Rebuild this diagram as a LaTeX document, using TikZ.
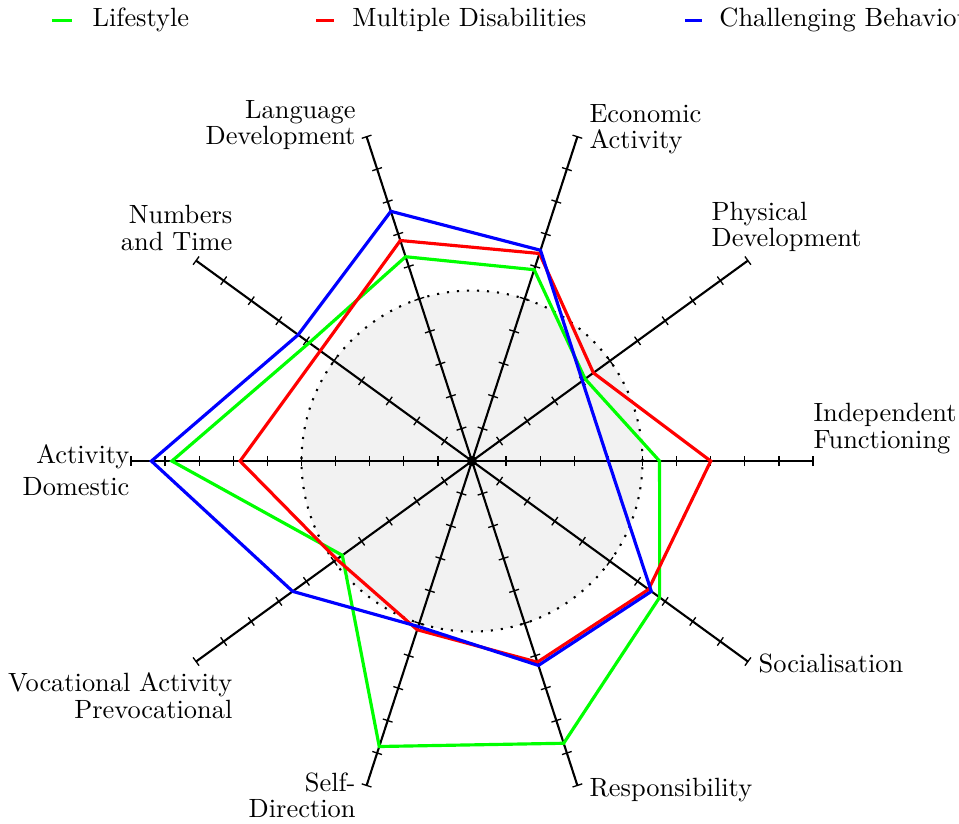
\documentclass[tikz,border=0pt]{standalone}
\usetikzlibrary{calc}
\definecolor{lifegreen}{RGB}{0,255,0}
\tikzset{
  axisline/.style={line width=0.8pt},
  tickmark/.style={line width=0.5pt},
  axislabel/.style={inner sep=0pt, font=\fontsize{10}{10}\selectfont},
  series/.style={line width=1.2pt},
}
\begin{document}
\begin{tikzpicture}[x=12.92pt,y=12.92pt]
    \useasboundingbox (-13.84,-10.62) rectangle (14.28,13.52);
    % shaded reference disc
    \fill[black!5] (0,0) circle (5);
    \draw[dash pattern=on 0.8pt off 3pt, line width=0.8pt] (0,0) circle (5);
    % spokes with ticks
    \coordinate (O) at (0,0);
    \foreach \a [count=\i] in {0,36,...,324} {
        \coordinate (end\i) at (\a:10);
        \draw[axisline] (O) -- (end\i);
        \foreach \k in {1,...,10}
            \draw[tickmark,rotate=\a] (\k,-0.15) -- (\k,0.15);
    }
    \fill (O) circle (0.15);
    % spoke labels
    \begin{scope}[every node/.style={axislabel}]
        \node[anchor=north west, align=left] (lblind) at (10.00,1.70) {Independent\\Functioning};
        \node[anchor=north west, align=left] (lblphys) at (7.01,7.62) {Physical\\Development};
        \node[anchor=north west, align=left] (lblecon) at (3.43,10.47) {Economic\\Activity};
        \node[anchor=north east, align=right] (lbllang) at (-3.40,10.59) {Language\\Development};
        \node[anchor=north east, align=right] (lblnum) at (-7.01,7.51) {Numbers\\and Time};
        \node[anchor=north east, align=right] (lbldom) at (-10.03,0.50) {Activity\\[2pt]Domestic};
        \node[anchor=north east, align=right] (lblvoc) at (-7.01,-6.19) {Vocational Activity\\Prevocational};
        \node[anchor=north east, align=right] (lblself) at (-3.40,-9.12) {Self-\\Direction};
        \node[anchor=north west] (lblresp) at (3.43,-9.27) {Responsibility};
        \node[anchor=north west] (lblsoc) at (8.39,-5.63) {Socialisation};
    \end{scope}
    % data
    \foreach \v [count=\i] in {5.5,4.1,5.9,6.3,5.9,8.8,4.7,8.8,8.7,6.8}
        \coordinate (g\i) at ({36*(\i-1)}:\v);
    \foreach \v [count=\i] in {7.0,4.4,6.4,6.8,5.5,6.8,4.9,5.2,6.2,6.4}
        \coordinate (r\i) at ({36*(\i-1)}:\v);
    \foreach \v [count=\i] in {4.0,4.0,6.5,7.7,6.3,9.4,6.5,5.1,6.3,6.5}
        \coordinate (b\i) at ({36*(\i-1)}:\v);
    \draw[series,lifegreen] (g1) -- (g2) -- (g3) -- (g4) -- (g5) -- (g6) -- (g7) -- (g8) -- (g9) -- (g10) -- cycle;
    \draw[series,red] (r1) -- (r2) -- (r3) -- (r4) -- (r5) -- (r6) -- (r7) -- (r8) -- (r9) -- (r10) -- cycle;
    \draw[series,blue] (b1) -- (b2) -- (b3) -- (b4) -- (b5) -- (b6) -- (b7) -- (b8) -- (b9) -- (b10) -- cycle;
    % legend
    \begin{scope}[every node/.style={inner sep=0pt, anchor=base west}]
        \node (leglife) at (-11.14,12.73) {Lifestyle};
        \node (legmult) at (-3.52,12.73) {Multiple Disabilities};
        \node (legchal) at (7.24,12.73) {Challenging Behaviour};
    \end{scope}
    \coordinate (lg1) at (-12.32,12.93); \coordinate (lg2) at (-11.73,12.93);
    \coordinate (lr1) at (-4.57,12.93);  \coordinate (lr2) at (-4.05,12.93);
    \coordinate (lb1) at (6.25,12.93);   \coordinate (lb2) at (6.74,12.93);
    \draw[series,lifegreen] (lg1) -- (lg2);
    \draw[series,red] (lr1) -- (lr2);
    \draw[series,blue] (lb1) -- (lb2);
\end{tikzpicture}
\end{document}
